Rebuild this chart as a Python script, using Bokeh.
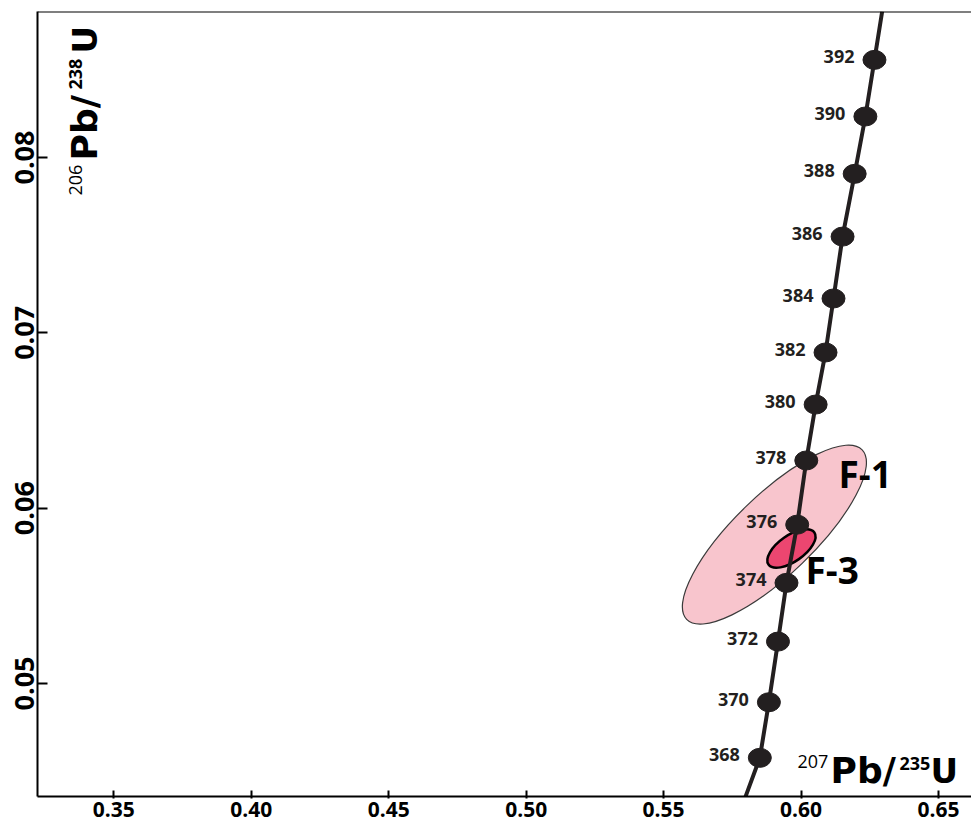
import math
from bokeh.plotting import figure
from bokeh.models import FixedTicker, NumeralTickFormatter, Span
from bokeh.core.properties import value
from bokeh.embed import file_html
from bokeh.resources import INLINE

# ---- data ----
ages = ["368", "370", "372", "374", "376", "378", "380", "382", "384", "386", "388", "390", "392"]
conc_x = [0.5850, 0.5883, 0.5916, 0.5947, 0.5986, 0.6019, 0.6053, 0.6089, 0.6118, 0.6151, 0.6195, 0.6234, 0.6267]
conc_y = [0.04576, 0.04893, 0.05239, 0.05574, 0.05906, 0.06272, 0.06591, 0.06888, 0.07196, 0.07549, 0.07907, 0.08234, 0.08557]
# concordia curve including its extension to the frame edges
curve_x = [0.5798] + conc_x + [0.6295]
curve_y = [0.04355] + conc_y + [0.08833]

samples = ["F-1", "F-3"]
ell_x = [0.5903, 0.5965]
ell_y = [0.05849, 0.05770]
sample_label_x = [0.6136, 0.6016]
sample_label_y = [0.06195, 0.05653]

x_ticks = [0.35, 0.40, 0.45, 0.50, 0.55, 0.60, 0.65]
y_ticks = [0.05, 0.06, 0.07, 0.08]
x_range = (0.32224, 0.6620)
y_range = (0.043554, 0.088329)

FONT = "Open Sans"
TITLE_FONT = "DejaVu Sans"
INK = "#231f20"

p = figure(width=971, height=824, output_backend="svg", toolbar_location=None,
           x_range=x_range, y_range=y_range,
           min_border_left=37, min_border_top=11, min_border_bottom=28, min_border_right=0)
p.outline_line_color = None
p.grid.visible = False
p.background_fill_color = "white"

# axes
p.xaxis.ticker = FixedTicker(ticks=x_ticks)
p.yaxis.ticker = FixedTicker(ticks=y_ticks)
p.xaxis.formatter = NumeralTickFormatter(format="0.00")
p.yaxis.formatter = NumeralTickFormatter(format="0.00")
for ax in (p.xaxis, p.yaxis):
    ax.axis_line_width = 2
    ax.axis_line_color = "black"
    ax.major_tick_line_width = 2
    ax.major_tick_line_color = "black"
    ax.minor_tick_line_color = None
    ax.major_label_text_font = FONT
    ax.major_label_text_font_style = "bold"
    ax.major_label_text_color = "black"
p.xaxis.major_label_text_font_size = "21px"
p.yaxis.major_label_text_font_size = "27px"
p.xaxis.major_tick_in = 6
p.xaxis.major_tick_out = 2
p.xaxis.major_label_standoff = 3
p.yaxis.major_tick_in = 10
p.yaxis.major_tick_out = 0
p.yaxis.major_label_standoff = 3
p.yaxis.major_label_orientation = "vertical"

# top border
p.add_layout(Span(location=y_range[1], dimension="width", line_color="black", line_width=2))

# sample error ellipses
p.ellipse(x=ell_x[0], y=ell_y[0], width=244, height=80, angle=math.radians(44),
          width_units="screen", height_units="screen",
          fill_color="#f8c5cd", line_color="#3a3a3a", line_width=1.2)
p.ellipse(x=ell_x[1], y=ell_y[1], width=56, height=26, angle=math.radians(35),
          width_units="screen", height_units="screen",
          fill_color="#ec4670", line_color="black", line_width=2.5)

# concordia curve and age markers
p.line(curve_x, curve_y, line_color=INK, line_width=4)
p.ellipse(x=conc_x, y=conc_y, width=23, height=19,
          width_units="screen", height_units="screen",
          fill_color=INK, line_color=INK)
p.text(x=conc_x, y=conc_y, text=ages, x_offset=-20, y_offset=-3,
       text_align="right", text_baseline="middle",
       text_font=value(FONT), text_font_style="bold", text_font_size="18px",
       text_color=INK)

# sample labels
p.text(x=sample_label_x, y=sample_label_y, text=samples,
       text_align="left", text_baseline="middle",
       text_font=value(FONT), text_font_style="bold", text_font_size="37px",
       text_color="black")

# axis titles (inside the plot)
def piece(x, y, t, size, style, font, angle=0.0):
    p.text(x=[x], y=[y], text=[t], angle=angle, text_align="left", text_baseline="middle",
           text_font=value(font), text_font_style=style, text_font_size=size, text_color="black")

# 207Pb/235U (bottom right)
piece(0.5987, 0.045545, "207", "18px", "normal", FONT)
piece(0.61071, 0.04503, "Pb/", "36px", "bold", TITLE_FONT)
piece(0.63581, 0.045431, "235", "18px", "bold", FONT)
piece(0.64709, 0.04503, "U", "34px", "bold", TITLE_FONT)

# 206Pb/238U (top left, vertical)
r = math.pi / 2
piece(0.33607, 0.077832, "206", "18px", "normal", FONT, r)
piece(0.33934, 0.07983, "Pb/", "36px", "bold", TITLE_FONT, r)
piece(0.33607, 0.08388, "238", "18px", "bold", FONT, r)
piece(0.33934, 0.085933, "U", "34px", "bold", TITLE_FONT, r)

open("out.html", "w").write(file_html(p, INLINE))
